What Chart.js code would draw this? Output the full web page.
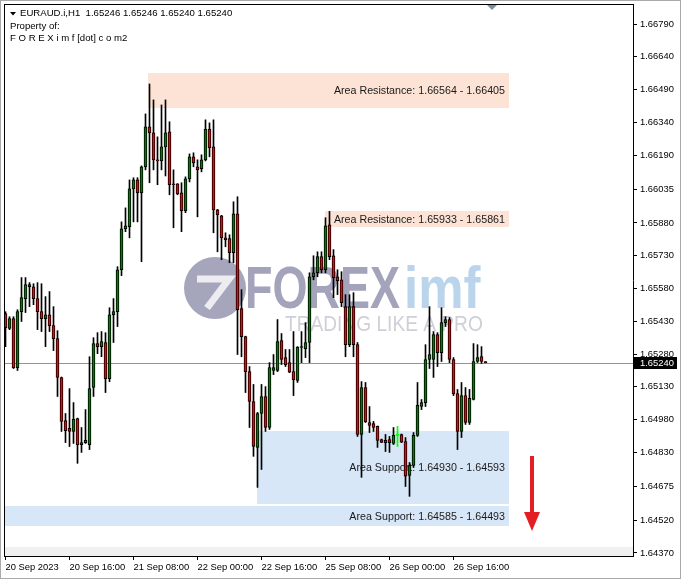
<!DOCTYPE html>
<html>
<head>
<meta charset="utf-8">
<script src="https://cdn.jsdelivr.net/npm/chart.js@4"></script>
<style>
  html, body { margin: 0; padding: 0; background: #fff; }
</style>
</head>
<body>
<canvas id="myCanvas" width="681" height="579"></canvas>
<script>
// EURAUD.i H1 candles, 20 Sep 2023 00:00 onwards (one per hour)
var opens = [1.65465, 1.65397, 1.65442, 1.65218, 1.65474, 1.65534, 1.65598, 1.65588, 1.65534, 1.65474,
  1.65442, 1.65460, 1.65410, 1.65351, 1.65173, 1.64976, 1.64940, 1.64926, 1.64985, 1.64866,
  1.64875, 1.64866, 1.65127, 1.65328, 1.65314, 1.65333, 1.65168, 1.65460, 1.65474, 1.65666,
  1.65853, 1.65863, 1.66036, 1.66077, 1.66018, 1.66137, 1.66320, 1.66292, 1.66169, 1.66164,
  1.66228, 1.66297, 1.66059, 1.66059, 1.66018, 1.65936, 1.66082, 1.66183, 1.66137, 1.66128,
  1.66169, 1.66310, 1.66228, 1.65940, 1.65913, 1.65812, 1.65808, 1.65744, 1.65922, 1.65488,
  1.65360, 1.65200, 1.65063, 1.64853, 1.65008, 1.65086, 1.64944, 1.65205, 1.65205, 1.65342,
  1.65264, 1.65241, 1.65200, 1.65159, 1.65310, 1.65305, 1.65333, 1.65634, 1.65652, 1.65726,
  1.65666, 1.65872, 1.65730, 1.65634, 1.65620, 1.65497, 1.65323, 1.65497, 1.65323, 1.64912,
  1.65127, 1.64967, 1.64962, 1.64949, 1.64889, 1.64875, 1.64889, 1.64871, 1.64908, 1.64912,
  1.64880, 1.64725, 1.64770, 1.64908, 1.65040, 1.65058, 1.65255, 1.65255, 1.65369, 1.65287,
  1.65424, 1.65438, 1.65255, 1.65099, 1.64926, 1.65090, 1.64967, 1.65072, 1.65246, 1.65268,
  1.65246];
var highs = [1.65474, 1.65451, 1.65451, 1.65483, 1.65630, 1.65630, 1.65607, 1.65602, 1.65607, 1.65602,
  1.65543, 1.65566, 1.65497, 1.65387, 1.65175, 1.65008, 1.65122, 1.65058, 1.64987, 1.64944,
  1.65026, 1.65268, 1.65355, 1.65378, 1.65383, 1.65378, 1.65492, 1.65534, 1.65680, 1.65885,
  1.65949, 1.66077, 1.66087, 1.66087, 1.66141, 1.66379, 1.66516, 1.66443, 1.66274, 1.66420,
  1.66443, 1.66343, 1.66123, 1.66060, 1.66064, 1.66091, 1.66196, 1.66201, 1.66169, 1.66192,
  1.66352, 1.66338, 1.66352, 1.65942, 1.65915, 1.65835, 1.65826, 1.65977, 1.66000, 1.65575,
  1.65362, 1.65223, 1.65141, 1.65013, 1.65141, 1.65131, 1.65241, 1.65278, 1.65438, 1.65374,
  1.65301, 1.65301, 1.65383, 1.65314, 1.65383, 1.65424, 1.65652, 1.65730, 1.65748, 1.65748,
  1.65904, 1.65933, 1.65758, 1.65666, 1.65657, 1.65552, 1.65552, 1.65561, 1.65333, 1.65154,
  1.65150, 1.65040, 1.64972, 1.64951, 1.64891, 1.64912, 1.64903, 1.64944, 1.64949, 1.64914,
  1.64898, 1.64784, 1.64921, 1.65150, 1.65072, 1.65323, 1.65497, 1.65383, 1.65378, 1.65492,
  1.65451, 1.65447, 1.65264, 1.65118, 1.65150, 1.65127, 1.65118, 1.65328, 1.65323, 1.65314,
  1.65246];
var lows = [1.65314, 1.65392, 1.65214, 1.65205, 1.65429, 1.65470, 1.65497, 1.65506, 1.65392, 1.65383,
  1.65314, 1.65383, 1.65296, 1.65086, 1.64926, 1.64875, 1.64857, 1.64871, 1.64780, 1.64830,
  1.64871, 1.64843, 1.65086, 1.65282, 1.65268, 1.65104, 1.65154, 1.65333, 1.65406, 1.65639,
  1.65840, 1.65812, 1.65885, 1.65885, 1.65703, 1.66123, 1.66064, 1.66123, 1.66055, 1.66123,
  1.66095, 1.66009, 1.65858, 1.66009, 1.65840, 1.65927, 1.66068, 1.66137, 1.65908, 1.66114,
  1.66164, 1.66183, 1.65835, 1.65748, 1.65712, 1.65771, 1.65698, 1.65698, 1.65278, 1.65268,
  1.65104, 1.64944, 1.64812, 1.64670, 1.64752, 1.64926, 1.64935, 1.65186, 1.65200, 1.65232,
  1.65223, 1.65195, 1.65090, 1.65150, 1.65241, 1.65264, 1.65241, 1.65620, 1.65634, 1.65652,
  1.65652, 1.65712, 1.65538, 1.65552, 1.65497, 1.65268, 1.65314, 1.65268, 1.64903, 1.64716,
  1.64967, 1.64921, 1.64926, 1.64853, 1.64875, 1.64834, 1.64830, 1.64866, 1.64857, 1.64875,
  1.64674, 1.64629, 1.64761, 1.64903, 1.65026, 1.65040, 1.65214, 1.65173, 1.65223, 1.65246,
  1.65406, 1.65241, 1.65090, 1.64843, 1.64898, 1.64958, 1.64958, 1.65070, 1.65241, 1.65237,
  1.65240];
var closes = [1.65401, 1.65442, 1.65218, 1.65474, 1.65538, 1.65598, 1.65588, 1.65534, 1.65474, 1.65442,
  1.65460, 1.65410, 1.65351, 1.65173, 1.64972, 1.64930, 1.64926, 1.64981, 1.64866, 1.64875,
  1.64885, 1.65122, 1.65328, 1.65314, 1.65337, 1.65168, 1.65460, 1.65474, 1.65666, 1.65853,
  1.65867, 1.66036, 1.66077, 1.66018, 1.66137, 1.66320, 1.66292, 1.66169, 1.66164, 1.66228,
  1.66292, 1.66055, 1.66055, 1.66013, 1.65936, 1.66082, 1.66183, 1.66155, 1.66123, 1.66169,
  1.66310, 1.66224, 1.65940, 1.65917, 1.65812, 1.65803, 1.65744, 1.65922, 1.65483, 1.65360,
  1.65200, 1.65063, 1.64857, 1.65008, 1.65086, 1.64944, 1.65218, 1.65218, 1.65337, 1.65255,
  1.65232, 1.65197, 1.65163, 1.65312, 1.65314, 1.65333, 1.65634, 1.65652, 1.65726, 1.65666,
  1.65867, 1.65726, 1.65630, 1.65616, 1.65515, 1.65323, 1.65497, 1.65323, 1.64912, 1.65127,
  1.64969, 1.64953, 1.64944, 1.64885, 1.64876, 1.64885, 1.64875, 1.64908, 1.64908, 1.64877,
  1.64721, 1.64770, 1.64908, 1.65045, 1.65058, 1.65255, 1.65278, 1.65369, 1.65287, 1.65424,
  1.65438, 1.65255, 1.65099, 1.64926, 1.65090, 1.64967, 1.65077, 1.65246, 1.65264, 1.65246,
  1.65240];

var tickIdx = [0, 16, 32, 48, 64, 80, 96, 112];
var tickLabels = ['20 Sep 2023', '20 Sep 16:00', '21 Sep 08:00', '22 Sep 00:00',
  '22 Sep 16:00', '25 Sep 08:00', '26 Sep 00:00', '26 Sep 16:00'];
var priceTicks = [1.66790, 1.66640, 1.66490, 1.66340, 1.66190, 1.66035, 1.65880, 1.65730, 1.65580,
  1.65430, 1.65280, 1.65130, 1.64980, 1.64830, 1.64675, 1.64520, 1.64370];

// drawn zones (price from / to, starting candle)
var zoneNames = ['Area Resistance', 'Area Resistance', 'Area Support', 'Area Support'];
var zoneHigh = [1.66564, 1.65933, 1.64930, 1.64585];
var zoneLow = [1.66405, 1.65861, 1.64593, 1.64493];
var zoneFrom = [35.6, 79.9, 62.9, -0.375];
var zoneTo = 125.9;

var symbol = 'EURAUD.i,H1';
var lastPrice = 1.65240;

var FONT = '"Liberation Sans", Arial, sans-serif';

// build bar data: wick = [low, high], body = [open, close]
var wicks = [], bodies = [], bodyFill = [], lineCol = [];
for (var i = 0; i < opens.length; i++) {
  wicks.push({ x: i, y: [lows[i], highs[i]] });
  bodies.push({ x: i, y: [opens[i], closes[i]] });
  if (closes[i] > opens[i]) {
    bodyFill.push('#008000'); lineCol.push('#000000');
  } else if (closes[i] < opens[i]) {
    bodyFill.push('#ff0000'); lineCol.push('#000000');
  } else {
    // doji gets the line colour, like MT4
    bodyFill.push('#00ff00'); lineCol.push('#00ff00');
  }
}

function drawLogo(ctx) {
  ctx.save();
  ctx.globalAlpha = 0.8;
  ctx.fillStyle = '#8e8eab';
  ctx.beginPath();
  ctx.arc(215, 288, 31, 0, Math.PI * 2);
  ctx.fill();
  ctx.strokeStyle = '#ffffff';
  ctx.lineWidth = 7;
  ctx.lineJoin = 'miter';
  ctx.beginPath();
  ctx.moveTo(197, 279);
  ctx.lineTo(229, 279);
  ctx.lineTo(207, 308);
  ctx.stroke();

  ctx.textBaseline = 'alphabetic';
  ctx.textAlign = 'left';
  ctx.font = 'bold 60px ' + FONT;
  ctx.fillStyle = '#8c8cab';
  ctx.save();
  ctx.translate(245, 308);
  ctx.scale(0.75, 1);
  ctx.fillText('FOREX', 0, 0);
  ctx.restore();
  ctx.fillStyle = '#a9cae6';
  ctx.save();
  ctx.translate(404, 308);
  ctx.scale(0.85, 1);
  ctx.fillText('imf', 0, 0);
  ctx.restore();

  ctx.font = '22px ' + FONT;
  ctx.fillStyle = '#c3c3ce';
  ctx.save();
  ctx.translate(285, 331);
  ctx.scale(0.87, 1);
  ctx.fillText('TRADING LIKE A PRO', 0, 0);
  ctx.restore();
  ctx.restore();
}

var mt4Plugin = {
  id: 'mt4',
  beforeDatasetsDraw: function (chart) {
    var ctx = chart.ctx, xs = chart.scales.x, ys = chart.scales.y, a = chart.chartArea;
    ctx.save();
    // grey strip at the bottom of the window
    ctx.fillStyle = '#f0f0f0';
    ctx.fillRect(a.left + 1, a.bottom - 9, a.right - a.left - 1, 9);

    var boxes = [];
    for (var z = 0; z < zoneHigh.length; z++) {
      var x0 = Math.max(a.left + 1, Math.round(xs.getPixelForValue(zoneFrom[z])));
      var x1 = Math.round(xs.getPixelForValue(zoneTo));
      var y0 = Math.round(ys.getPixelForValue(zoneHigh[z]));
      var y1 = Math.round(ys.getPixelForValue(zoneLow[z]));
      ctx.fillStyle = zoneNames[z] == 'Area Resistance' ? '#fce3d5' : '#d8e7f7';
      ctx.fillRect(x0, y0, x1 - x0, y1 - y0);
      boxes.push([x1, (y0 + y1) / 2]);
    }

    drawLogo(ctx);

    ctx.font = '10.7px ' + FONT;
    ctx.fillStyle = '#1a1a1a';
    ctx.textAlign = 'right';
    ctx.textBaseline = 'middle';
    for (z = 0; z < zoneHigh.length; z++) {
      ctx.fillText(zoneNames[z] + ': ' + zoneHigh[z].toFixed(5) + ' - ' + zoneLow[z].toFixed(5),
        boxes[z][0] - 4, boxes[z][1] + 1);
    }

    // bid line
    var py = Math.round(ys.getPixelForValue(lastPrice)) + 0.5;
    ctx.strokeStyle = '#8a96a3';
    ctx.lineWidth = 1;
    ctx.beginPath();
    ctx.moveTo(a.left + 1, py);
    ctx.lineTo(a.right, py);
    ctx.stroke();
    ctx.restore();
  },
  afterDraw: function (chart) {
    var ctx = chart.ctx, ys = chart.scales.y, a = chart.chartArea;
    ctx.save();
    // frame top / left
    ctx.fillStyle = '#000000';
    ctx.fillRect(a.left, a.top, a.right - a.left, 1);
    ctx.fillRect(a.left, a.top, 1, a.bottom - a.top);

    // window border
    ctx.strokeStyle = '#a9a9a9';
    ctx.strokeRect(0.5, 0.5, chart.width - 1, chart.height - 1);

    // chart shift marker
    ctx.fillStyle = '#7f8d9b';
    ctx.beginPath();
    ctx.moveTo(487, 5); ctx.lineTo(497, 5); ctx.lineTo(492, 10);
    ctx.closePath(); ctx.fill();

    // header
    ctx.fillStyle = '#000000';
    ctx.beginPath();
    ctx.moveTo(10, 12); ctx.lineTo(16, 12); ctx.lineTo(13, 15.5);
    ctx.closePath(); ctx.fill();
    var n = opens.length - 1;
    ctx.font = '9.6px ' + FONT;
    ctx.textAlign = 'left';
    ctx.textBaseline = 'alphabetic';
    ctx.fillText(symbol + '  ' + [opens[n], highs[n], lows[n], closes[n]].map(function (v) {
      return v.toFixed(5);
    }).join(' '), 20, 16);
    ctx.fillText('Property of:', 10, 29);
    ctx.fillText('F O R E X i m f [dot] c o m2', 10, 41);

    // bid price tag on the axis
    var py = Math.round(ys.getPixelForValue(lastPrice));
    ctx.fillRect(a.right, py - 6, 44, 12);
    ctx.fillStyle = '#ffffff';
    ctx.textBaseline = 'middle';
    ctx.font = '9.4px ' + FONT;
    ctx.fillText(lastPrice.toFixed(5), a.right + 7, py + 0.5);

    // red arrow
    ctx.fillStyle = '#e31e24';
    ctx.fillRect(530, 456, 4, 58);
    ctx.beginPath();
    ctx.moveTo(524, 512); ctx.lineTo(540, 512); ctx.lineTo(532, 531);
    ctx.closePath(); ctx.fill();
    ctx.restore();
  }
};

var myChart = new Chart(document.getElementById('myCanvas'), {
  type: 'bar',
  data: {
    datasets: [{
      label: 'body',
      data: bodies,
      backgroundColor: bodyFill,
      borderColor: lineCol,
      borderWidth: 1,
      borderSkipped: false,
      barThickness: 3,
      minBarLength: 1,
      grouped: false,
      order: 1
    }, {
      label: 'wick',
      data: wicks,
      backgroundColor: lineCol,
      borderWidth: 0,
      barThickness: 1,
      grouped: false,
      order: 2
    }]
  },
  options: {
    responsive: false,
    devicePixelRatio: 1,
    animation: false,
    events: [],
    layout: { padding: { left: 4, top: 4, right: 0, bottom: 0 } },
    plugins: { legend: { display: false }, tooltip: { enabled: false } },
    scales: {
      x: {
        type: 'linear',
        offset: false,
        min: -0.375,
        max: 156.875,
        afterBuildTicks: function (s) {
          s.ticks = tickIdx.map(function (v) { return { value: v }; });
        },
        afterFit: function (s) {
          s.height = 23;
          s.paddingLeft = 0; s.paddingRight = 0;
        },
        ticks: {
          autoSkip: false,
          maxRotation: 0,
          align: 'start',
          padding: 2,
          color: '#000000',
          font: { family: FONT, size: 9.4 },
          callback: function (v) { return tickLabels[tickIdx.indexOf(v)]; }
        },
        grid: { drawOnChartArea: false, offset: false, tickLength: 4, color: '#000000' },
        border: { display: true, color: '#000000' }
      },
      y: {
        position: 'right',
        min: 1.64356,
        max: 1.66882,
        afterBuildTicks: function (s) {
          s.ticks = priceTicks.map(function (v) { return { value: v }; });
        },
        afterFit: function (s) {
          s.width = 48;
          s.paddingTop = 0; s.paddingBottom = 0;
        },
        ticks: {
          padding: 3,
          color: '#000000',
          font: { family: FONT, size: 9.4 },
          callback: function (v) { return v.toFixed(5); }
        },
        grid: { drawOnChartArea: false, tickLength: 4, color: '#000000' },
        border: { display: true, color: '#000000' }
      }
    }
  },
  plugins: [mt4Plugin]
});
</script>
</body>
</html>
